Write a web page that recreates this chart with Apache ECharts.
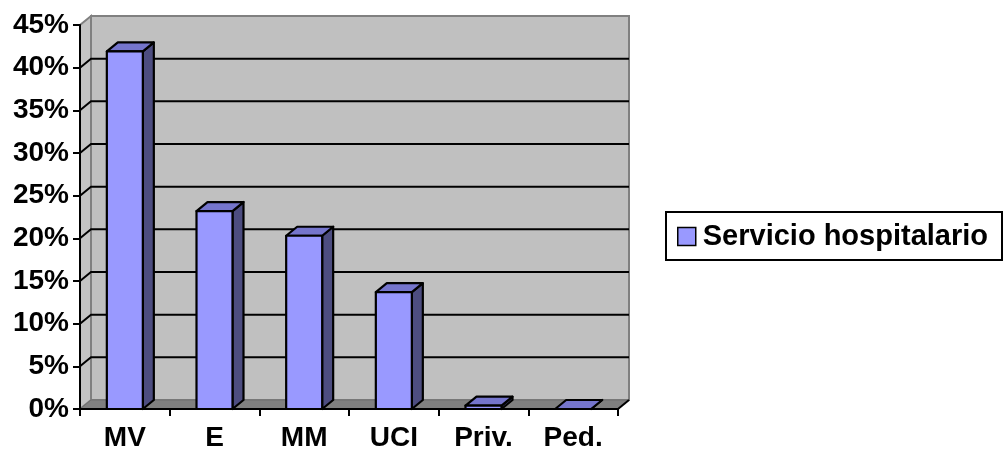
<!DOCTYPE html>
<html>
<head>
<meta charset="utf-8">
<script src="https://cdn.jsdelivr.net/npm/echarts@6/dist/echarts.min.js"></script>
<style>
  html, body { margin: 0; padding: 0; background: #fff; }
  #chart { width: 1004px; height: 454px; }
</style>
</head>
<body>
<div id="chart"></div>
<script>
// Share of cases by hospital service
const categories = ['MV', 'E', 'MM', 'UCI', 'Priv.', 'Ped.'];
const shares = [0.419, 0.232, 0.203, 0.137, 0.004, 0.0];
const seriesName = 'Servicio hospitalario';
const yMax = 0.45;
const yStep = 0.05;

// 3D look: depth offset of the back wall relative to the front plane
const DX = 11, DY = -9;
const BAR_HALF = 18;
const FONT = 'Liberation Sans';

const chart = echarts.init(document.getElementById('chart'), null, { renderer: 'canvas' });

function wallRender(params, api) {
  const cs = params.coordSys;
  const x0 = cs.x, x1 = cs.x + cs.width;
  const yBottom = api.coord([0, 0])[1];
  const yTop = api.coord([0, yMax])[1];
  const children = [];
  // back wall
  children.push({
    type: 'polygon',
    shape: { points: [[x0 + DX, yTop + DY], [x1 + DX, yTop + DY], [x1 + DX, yBottom + DY], [x0 + DX, yBottom + DY]] },
    style: { fill: '#C0C0C0', stroke: '#808080', lineWidth: 2 }
  });
  // side wall
  children.push({
    type: 'polygon',
    shape: { points: [[x0, yBottom], [x0, yTop], [x0 + DX, yTop + DY], [x0 + DX, yBottom + DY]] },
    style: { fill: '#C4C4C4', stroke: '#808080', lineWidth: 2 }
  });
  // grid lines on the walls
  for (let v = yStep; v < yMax - 1e-9; v += yStep) {
    const y = api.coord([0, v])[1];
    children.push({
      type: 'polyline',
      shape: { points: [[x0, y], [x0 + DX, y + DY], [x1 + DX, y + DY]] },
      style: { fill: null, stroke: '#000', lineWidth: 2 }
    });
  }
  // floor
  children.push({
    type: 'polygon',
    shape: { points: [[x0, yBottom], [x1, yBottom], [x1 + DX, yBottom + DY], [x0 + DX, yBottom + DY]] },
    style: { fill: '#808080', stroke: '#6E6E6E', lineWidth: 1 }
  });
  children.push({
    type: 'line',
    shape: { x1: x1, y1: yBottom, x2: x1 + DX, y2: yBottom + DY },
    style: { stroke: '#000', lineWidth: 2 }
  });
  return { type: 'group', children: children };
}

function barRender(params, api) {
  const idx = api.value(0);
  const val = api.value(1);
  const base = api.coord([idx, 0]);
  const top = api.coord([idx, val]);
  const cx = base[0];
  const l = cx - BAR_HALF, r = cx + BAR_HALF;
  const y0 = base[1], y1 = top[1];
  const edge = { stroke: '#000', lineWidth: 2.2, lineJoin: 'round' };
  return {
    type: 'group',
    children: [
      { type: 'polygon', shape: { points: [[r, y0], [r, y1], [r + DX, y1 + DY], [r + DX, y0 + DY]] },
        style: Object.assign({ fill: '#4D4D80' }, edge) },
      { type: 'polygon', shape: { points: [[l, y1], [r, y1], [r + DX, y1 + DY], [l + DX, y1 + DY]] },
        style: Object.assign({ fill: '#7575CC' }, edge) },
      { type: 'polygon', shape: { points: [[l, y0], [r, y0], [r, y1], [l, y1]] },
        style: Object.assign({ fill: '#9999FF' }, edge) }
    ]
  };
}

const option = {
  animation: false,
  backgroundColor: '#fff',
  grid: { left: 80, top: 25, width: 538, height: 384 },
  legend: {
    data: [seriesName],
    left: 666, top: 212,
    orient: 'vertical',
    padding: [10, 14, 9, 11],
    itemWidth: 18, itemHeight: 18, itemGap: 0,
    borderColor: '#000', borderWidth: 2,
    icon: 'rect',
    itemStyle: { color: '#9999FF', borderColor: '#000', borderWidth: 1.5 },
    textStyle: { fontFamily: FONT, fontWeight: 'bold', fontSize: 29, color: '#000', padding: [0, 0, 0, 2] }
  },
  xAxis: {
    type: 'category',
    data: categories,
    boundaryGap: true,
    axisLine: { lineStyle: { color: '#000', width: 2 } },
    axisTick: { show: true, length: 7, inside: false, lineStyle: { color: '#000', width: 2 } },
    axisLabel: { fontFamily: FONT, fontWeight: 'bold', fontSize: 28, color: '#000', margin: 15 },
    splitLine: { show: false }
  },
  yAxis: {
    type: 'value',
    min: 0, max: yMax, interval: yStep,
    axisLine: { show: true, lineStyle: { color: '#000', width: 2 } },
    axisTick: { show: true, length: 7, lineStyle: { color: '#000', width: 2 } },
    axisLabel: {
      fontFamily: FONT, fontWeight: 'bold', fontSize: 28, color: '#000', margin: 11,
      formatter: v => Math.round(v * 100) + '%'
    },
    splitLine: { show: false }
  },
  series: [
    {
      type: 'custom',
      name: 'walls',
      coordinateSystem: 'cartesian2d',
      renderItem: wallRender,
      data: [[0, 0]],
      z: 0,
      silent: true
    },
    {
      type: 'custom',
      name: seriesName,
      coordinateSystem: 'cartesian2d',
      renderItem: barRender,
      itemStyle: { color: '#9999FF' },
      data: shares.map((v, i) => [i, v]),
      encode: { x: 0, y: 1 },
      z: 3
    }
  ]
};

chart.setOption(option);
</script>
</body>
</html>
